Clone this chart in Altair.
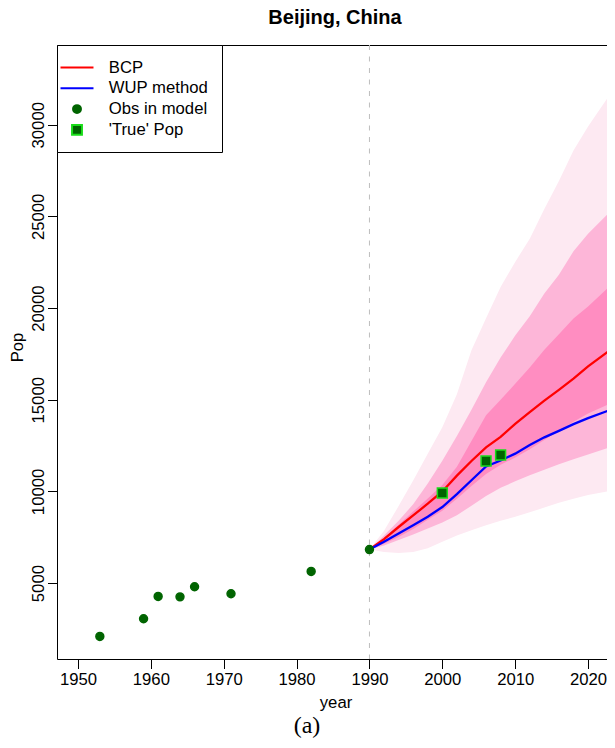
import altair as alt
import pandas as pd

# ---- observed data ----
obs_year = [1953, 1959, 1961, 1964, 1966, 1971, 1982, 1990]
obs_pop = [2090, 3055, 4272, 4250, 4800, 4420, 5636, 6830]
true_year = [2000, 2006, 2008]
true_pop = [9912, 11657, 11985]

# ---- projections (1990 onwards) ----
proj_year = [1990, 1992, 1994, 1996, 1998, 2000, 2002, 2004, 2006, 2008,
             2010, 2012, 2014, 2016, 2018, 2020, 2023]
bcp = [6830, 7400, 8060, 8690, 9330, 10000, 10860, 11660, 12400, 12970,
       13690, 14330, 14950, 15540, 16150, 16820, 17700]
wup = [6830, 7250, 7700, 8150, 8620, 9150, 9850, 10610, 11366, 11690,
       12060, 12530, 12950, 13300, 13670, 14000, 14440]
# prediction bands: lower/upper for outer (light), middle, inner (dark)
outer_lo = [6830, 6700, 6640, 6700, 6900, 7250, 7600, 7880, 8150, 8400,
            8620, 8860, 9120, 9380, 9600, 9800, 10030]
outer_hi = [6830, 7850, 9200, 10600, 12050, 13500, 15300, 17700, 19450, 21150,
            22520, 23780, 25400, 26930, 28600, 29900, 31650]
mid_lo = [6830, 7050, 7350, 7650, 7980, 8300, 8700, 9220, 9750, 10200,
          10550, 10880, 11180, 11480, 11760, 12020, 12400]
mid_hi = [6830, 7600, 8400, 9300, 10430, 11680, 13030, 14450, 15950, 17300,
          18500, 19560, 20800, 21820, 23100, 24050, 25250]
inner_lo = [6830, 7150, 7520, 7950, 8450, 8950, 9600, 10300, 10950, 11450,
            11850, 12300, 12800, 13300, 13800, 14250, 14780]
inner_hi = [6830, 7470, 8180, 8900, 9620, 10350, 11350, 12750, 14150, 15000,
            15870, 16760, 17730, 18580, 19430, 20080, 21200]

x_ticks = [1950, 1960, 1970, 1980, 1990, 2000, 2010, 2020]
y_ticks = [5000, 10000, 15000, 20000, 25000, 30000]
x_domain = [1947.12, 2022.6]
y_domain = [860, 34350]

series_names = ["BCP", "WUP method", "Obs in model", "\u00a0'True' Pop"]
series_fill = ["transparent", "transparent", "#006400", "#006400"]
series_stroke = ["#FF0000", "#0000FF", "#006400", "#19DD19"]
series_shape = [
    "M-2,0H2",
    "M-2,0H2",
    "M-0.48,0A0.48,0.48 0 1,0 0.48,0A0.48,0.48 0 1,0 -0.48,0Z",
    "M-0.6,-0.6H0.6V0.6H-0.6Z",
]

FONT = "Liberation Sans"
FS = 16.7

proj = pd.DataFrame({
    "year": proj_year, "bcp": bcp, "wup": wup,
    "olo": outer_lo, "ohi": outer_hi, "mlo": mid_lo, "mhi": mid_hi,
    "ilo": inner_lo, "ihi": inner_hi,
})
pts = pd.DataFrame({
    "year": obs_year + true_year,
    "pop": obs_pop + true_pop,
    "series": [series_names[2]] * len(obs_year) + [series_names[3]] * len(true_year),
})

xenc = alt.X("year:Q", scale=alt.Scale(domain=x_domain, nice=False, zero=False),
             axis=alt.Axis(values=x_ticks, format="d", title="year", domain=False, grid=False,
                           tickSize=9.5, tickColor="black", labelFontSize=FS, labelFont=FONT,
                           labelColor="black", labelPadding=3, labelBaseline="top",
                           labelFlush=False, labelOverlap=False,
                           titleFontSize=FS, titleFont=FONT, titleFontWeight="normal",
                           titleColor="black", titleX=278.5, titleY=48, titleAlign="center",
                           titleBaseline="alphabetic"))
yscale = alt.Scale(domain=y_domain, nice=False, zero=False)
yaxis = alt.Axis(values=y_ticks, format="d", title="Pop", domain=False, grid=False,
                 tickSize=9.5, tickColor="black", labelFontSize=FS, labelFont=FONT,
                 labelColor="black", labelAngle=270, labelAlign="center",
                 labelBaseline="alphabetic", labelPadding=4.2, labelOverlap=False,
                 titleFontSize=FS, titleFont=FONT, titleFontWeight="normal",
                 titleColor="black", titleAngle=270, titleAlign="center",
                 titleBaseline="alphabetic", titleX=-35, titleY=302)

rule = alt.Chart(pd.DataFrame({"year": [1990]})).mark_rule(
    color="#BEBEBE", strokeDash=[5, 6.5], strokeWidth=1
).encode(x=xenc)

base = alt.Chart(proj)
band_outer = base.mark_area(color="#FDE9F2", opacity=1, clip=True).encode(
    x="year:Q", y=alt.Y("olo:Q", scale=yscale, axis=yaxis), y2="ohi:Q")
band_mid = base.mark_area(color="#FDB6D8", opacity=1, clip=True).encode(
    x="year:Q", y="mlo:Q", y2="mhi:Q")
band_inner = base.mark_area(color="#FF8DC1", opacity=1, clip=True).encode(
    x="year:Q", y="ilo:Q", y2="ihi:Q")
line_bcp = base.mark_line(color="#FF0000", strokeWidth=2.3, clip=True).encode(
    x="year:Q", y="bcp:Q")
line_wup = base.mark_line(color="#0000FF", strokeWidth=2.3, clip=True).encode(
    x="year:Q", y="wup:Q")

points = alt.Chart(pts).mark_point(filled=True, size=272, opacity=1, strokeWidth=1.5).encode(
    x="year:Q",
    y="pop:Q",
    fill=alt.Fill("series:N", scale=alt.Scale(domain=series_names, range=series_fill),
                  legend=alt.Legend(title=None, orient="top-left", offset=0, padding=13,
                                    rowPadding=1.8, labelOffset=22.3, symbolOffset=-2.5,
                                    labelFontSize=FS, labelFont=FONT, labelColor="black",
                                    strokeColor="black", fillColor="white",
                                    symbolStrokeWidth=2, symbolSize=272,
                                    labelLimit=300, cornerRadius=0)),
    stroke=alt.Stroke("series:N", scale=alt.Scale(domain=series_names, range=series_stroke)),
    shape=alt.Shape("series:N", scale=alt.Scale(domain=series_names, range=series_shape)),
)

title = alt.Chart(pd.DataFrame({"t": ["Beijing, China"]})).mark_text(
    font=FONT, fontSize=20, fontWeight="bold", baseline="alphabetic", align="center", color="black"
).encode(text="t:N", x=alt.value(278), y=alt.value(-21))

caption = alt.Chart(pd.DataFrame({"t": ["(a)"]})).mark_text(
    font="Liberation Serif", fontSize=24, baseline="alphabetic", align="center", color="black"
).encode(text="t:N", x=alt.value(250), y=alt.value(688))

chart = alt.layer(
    rule, band_outer, band_mid, band_inner, line_bcp, line_wup, points, title, caption
).properties(
    width=550, height=614,
    padding={"left": 49, "top": 37, "right": 0, "bottom": 81},
    autosize="none",
).configure_view(stroke="black", strokeWidth=1)

chart.save("out.html", embed_options={"renderer": "svg", "actions": False})
